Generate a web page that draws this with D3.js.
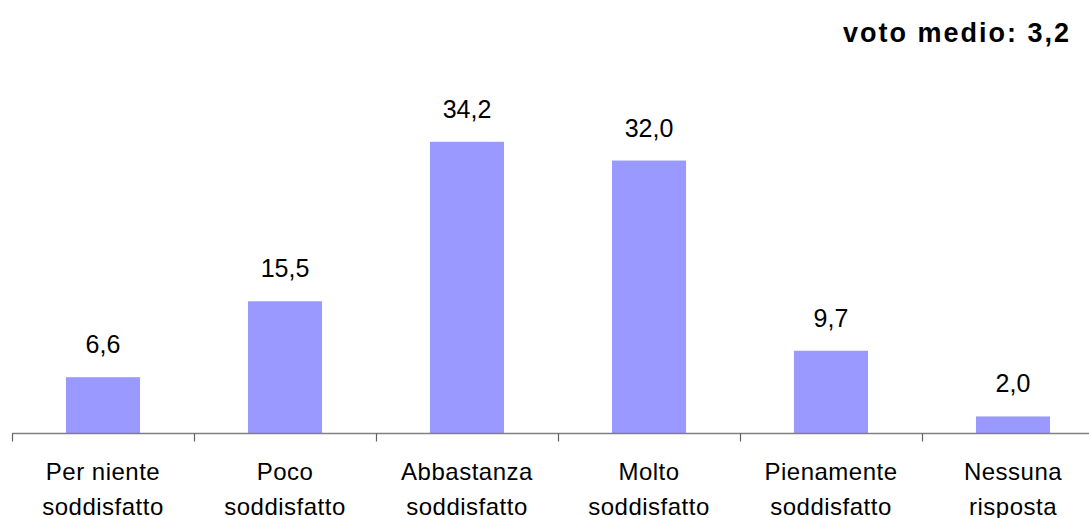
<!DOCTYPE html>
<html>
<head>
<meta charset="utf-8">
<script src="https://cdn.jsdelivr.net/npm/d3@7"></script>
<style>
  html, body { margin: 0; padding: 0; background: #fff; }
  svg { display: block; font-family: Arial, "Liberation Sans", sans-serif; }
</style>
</head>
<body>
<svg id="chart" width="1089" height="518"></svg>
<script>
const categories = [
  ["Per niente", "soddisfatto"],
  ["Poco", "soddisfatto"],
  ["Abbastanza", "soddisfatto"],
  ["Molto", "soddisfatto"],
  ["Pienamente", "soddisfatto"],
  ["Nessuna", "risposta"]
];
const values = [6.6, 15.5, 34.2, 32.0, 9.7, 2.0];
const valueLabels = ["6,6", "15,5", "34,2", "32,0", "9,7", "2,0"];
const title = "voto medio: 3,2";

const svg = d3.select("#chart");
const keys = categories.map((c, i) => i);

const x0 = 12, x1 = 12 + 182 * 6;
const baseY = 433.5;

const x = d3.scaleBand().domain(keys).range([x0, x1])
  .paddingInner(0.593).paddingOuter(0.593 / 2);
const xEdge = d3.scaleLinear().domain([0, keys.length]).range([x0, x1]);
const y = d3.scaleLinear().domain([0, 40]).range([baseY, baseY - 341.2]);

// bars
svg.append("g").selectAll("rect").data(values).join("rect")
  .attr("x", (d, i) => x(i))
  .attr("width", x.bandwidth())
  .attr("y", d => y(d))
  .attr("height", d => baseY - y(d))
  .attr("fill", "#9999FF");

// axis
const axisG = svg.append("g").attr("transform", `translate(0,${baseY})`);
axisG.append("line")
  .attr("x1", x0).attr("x2", 1089)
  .attr("stroke", "#808080").attr("stroke-width", 1.5);
const ticks = d3.range(0, keys.length + 1);
axisG.selectAll("line.tick").data(ticks).join("line")
  .attr("class", "tick")
  .attr("x1", d => Math.round(xEdge(d)) + 0.5).attr("x2", d => Math.round(xEdge(d)) + 0.5)
  .attr("y1", 0).attr("y2", 8)
  .attr("stroke", "#606060").attr("stroke-width", 1.2);

// value labels
svg.append("g").selectAll("text").data(values).join("text")
  .attr("x", (d, i) => x(i) + x.bandwidth() / 2)
  .attr("y", d => y(d) - 24)
  .attr("text-anchor", "middle")
  .attr("font-size", 25)
  .attr("fill", "#000")
  .text((d, i) => valueLabels[i]);

// category labels
const cat = svg.append("g").selectAll("text").data(categories).join("text")
  .attr("text-anchor", "middle")
  .attr("font-size", 24)
  .attr("letter-spacing", 0.5)
  .attr("fill", "#000");
cat.each(function(d, i) {
  const t = d3.select(this);
  const cx = x(i) + x.bandwidth() / 2;
  d.forEach((line, j) => {
    t.append("tspan").attr("x", cx).attr("y", 480 + j * 35).text(line);
  });
});

// title
svg.append("text")
  .attr("x", 1071).attr("y", 42)
  .attr("text-anchor", "end")
  .attr("font-size", 27)
  .attr("font-weight", "bold")
  .attr("letter-spacing", 2)
  .attr("fill", "#000")
  .text(title);
</script>
</body>
</html>
